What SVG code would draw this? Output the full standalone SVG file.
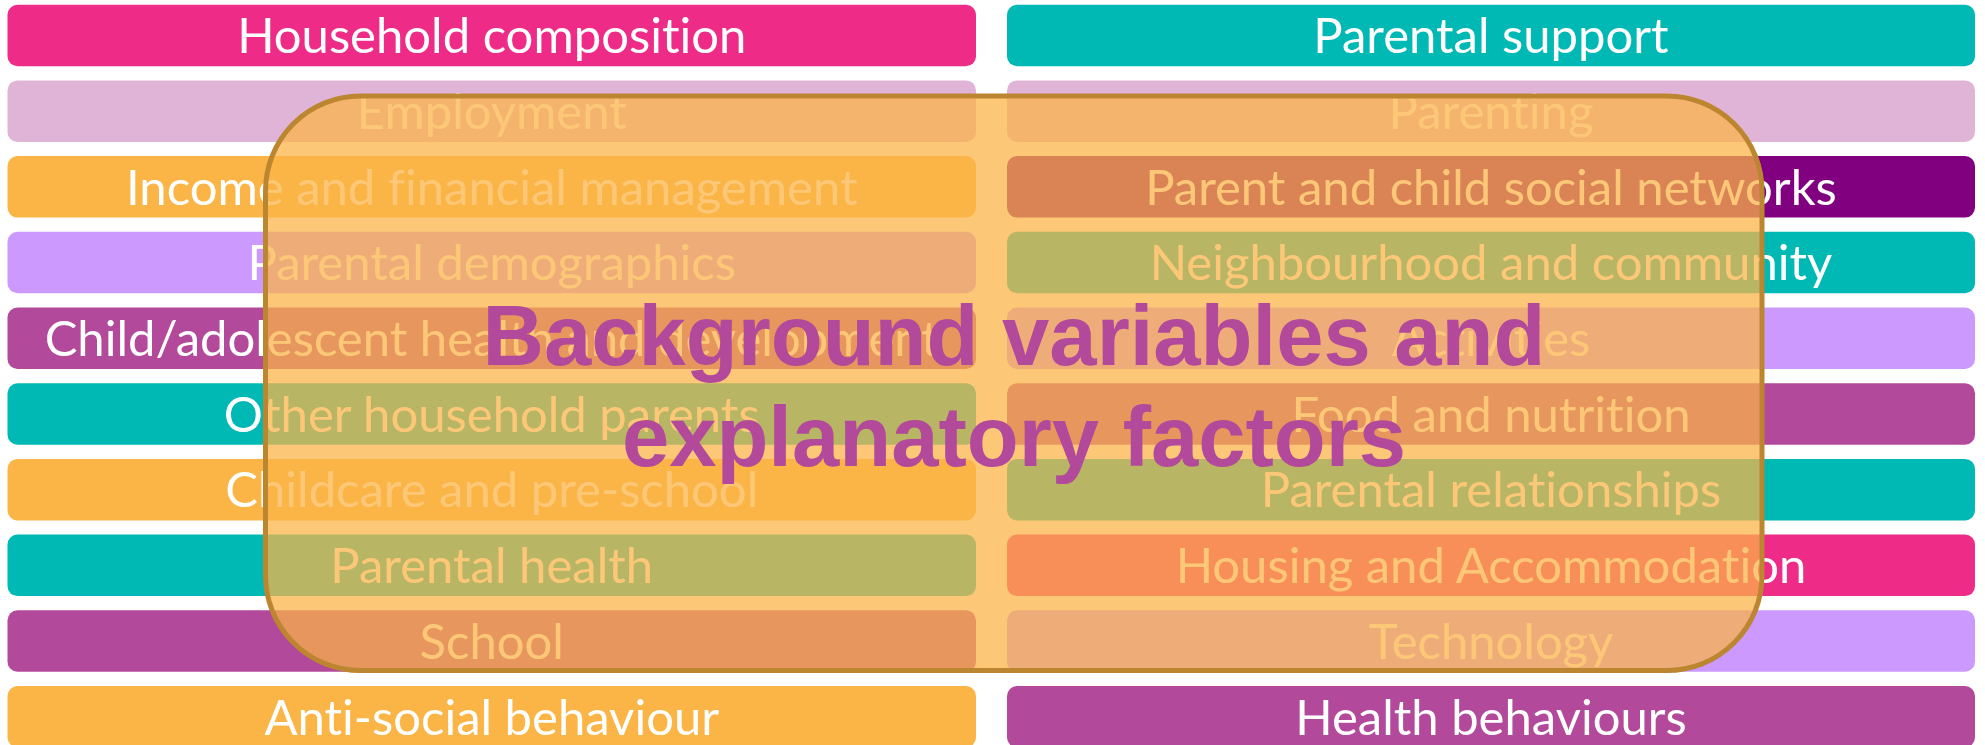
<svg xmlns="http://www.w3.org/2000/svg" width="1985" height="745" viewBox="0 0 1985 745">
<style>
.bar{stroke:none}
.lbl{font-family:Lato,"Open Sans","Liberation Sans",sans-serif;font-size:49px;fill:#FFFFFF;text-anchor:middle;font-variant-ligatures:none;font-feature-settings:"liga" 0}
.pink{fill:#EE2C87}
.teal{fill:#00B8B4}
.mauve{fill:#E0B4D6}
.orange{fill:#FBB546}
.lav{fill:#CC99FF}
.purple{fill:#B2499A}
.dpurple{fill:#800080}
.title{font-family:"Liberation Sans",Arial,sans-serif;font-weight:bold;font-size:85px;fill:#B2499A;text-anchor:middle}
</style>
<rect width="1985" height="745" fill="#FFFFFF"/>
<g id="left-column">
<g id="household-composition"><rect class="bar pink" x="7.5" y="4.7" width="968.5" height="61.5" rx="10"/><text class="lbl" x="491.75" y="53.2">Household composition</text></g>
<g id="employment"><rect class="bar mauve" x="7.5" y="80.4" width="968.5" height="61.5" rx="10"/><text class="lbl" x="491.75" y="128.9">Employment</text></g>
<g id="income"><rect class="bar orange" x="7.5" y="156.1" width="968.5" height="61.5" rx="10"/><text class="lbl" x="491.75" y="204.6">Income and financial management</text></g>
<g id="parental-demographics"><rect class="bar lav" x="7.5" y="231.8" width="968.5" height="61.5" rx="10"/><text class="lbl" x="491.75" y="280.3">Parental demographics</text></g>
<g id="child-health"><rect class="bar purple" x="7.5" y="307.5" width="968.5" height="61.5" rx="10"/><text class="lbl" x="491.75" y="356">Child/adolescent health and development</text></g>
<g id="other-household-parents"><rect class="bar teal" x="7.5" y="383.2" width="968.5" height="61.5" rx="10"/><text class="lbl" x="491.75" y="431.7">Other household parents</text></g>
<g id="childcare"><rect class="bar orange" x="7.5" y="458.9" width="968.5" height="61.5" rx="10"/><text class="lbl" x="491.75" y="507.4">Childcare and pre-school</text></g>
<g id="parental-health"><rect class="bar teal" x="7.5" y="534.6" width="968.5" height="61.5" rx="10"/><text class="lbl" x="491.75" y="583.1">Parental health</text></g>
<g id="school"><rect class="bar purple" x="7.5" y="610.3" width="968.5" height="61.5" rx="10"/><text class="lbl" x="491.75" y="658.8">School</text></g>
<g id="anti-social"><rect class="bar orange" x="7.5" y="686" width="968.5" height="61.5" rx="10"/><text class="lbl" x="491.75" y="734.5">Anti-social behaviour</text></g>
</g>
<g id="right-column">
<g id="parental-support"><rect class="bar teal" x="1007" y="4.7" width="968" height="61.5" rx="10"/><text class="lbl" x="1491" y="53.2">Parental support</text></g>
<g id="parenting"><rect class="bar mauve" x="1007" y="80.4" width="968" height="61.5" rx="10"/><text class="lbl" x="1491" y="128.9">Parenting</text></g>
<g id="social-networks"><rect class="bar dpurple" x="1007" y="156.1" width="968" height="61.5" rx="10"/><text class="lbl" x="1491" y="204.6">Parent and child social networks</text></g>
<g id="neighbourhood"><rect class="bar teal" x="1007" y="231.8" width="968" height="61.5" rx="10"/><text class="lbl" x="1491" y="280.3">Neighbourhood and community</text></g>
<g id="activities"><rect class="bar lav" x="1007" y="307.5" width="968" height="61.5" rx="10"/><text class="lbl" x="1491" y="356">Activities</text></g>
<g id="food"><rect class="bar purple" x="1007" y="383.2" width="968" height="61.5" rx="10"/><text class="lbl" x="1491" y="431.7">Food and nutrition</text></g>
<g id="parental-relationships"><rect class="bar teal" x="1007" y="458.9" width="968" height="61.5" rx="10"/><text class="lbl" x="1491" y="507.4">Parental relationships</text></g>
<g id="housing"><rect class="bar pink" x="1007" y="534.6" width="968" height="61.5" rx="10"/><text class="lbl" x="1491" y="583.1">Housing and Accommodation</text></g>
<g id="technology"><rect class="bar lav" x="1007" y="610.3" width="968" height="61.5" rx="10"/><text class="lbl" x="1491" y="658.8">Technology</text></g>
<g id="health-behaviours"><rect class="bar purple" x="1007" y="686" width="968" height="61.5" rx="10"/><text class="lbl" x="1491" y="734.5">Health behaviours</text></g>
</g>
<g id="overlay">
<rect x="265.5" y="96" width="1496.5" height="574.5" rx="95" fill="#FBB447" fill-opacity="0.733" stroke="#BC8630" stroke-width="5"/>
<text class="title" x="1014" y="365">Background variables and</text>
<text class="title" x="1014" y="466">explanatory factors</text>
</g>
</svg>
